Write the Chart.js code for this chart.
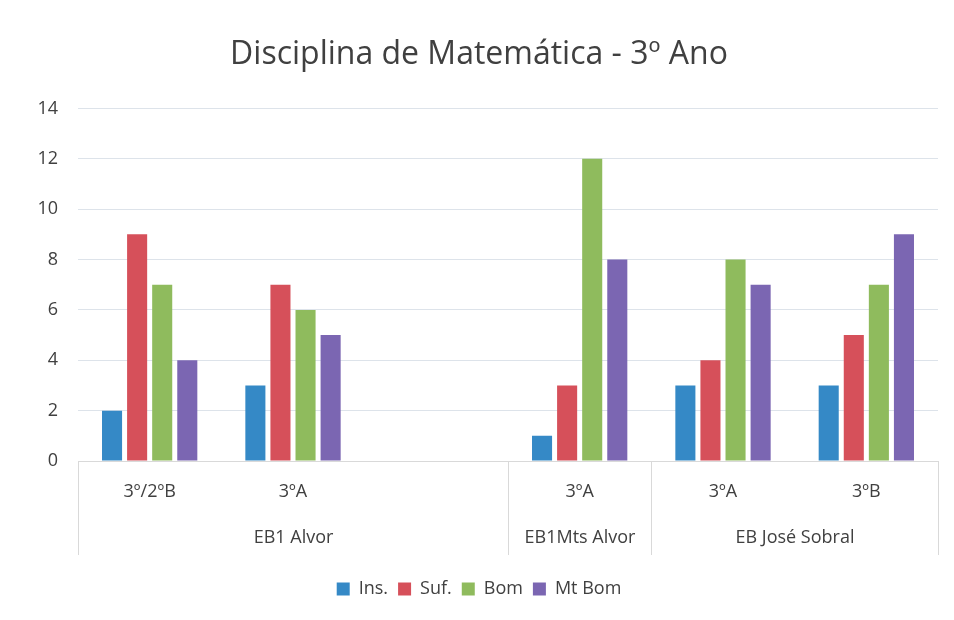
<!DOCTYPE html>
<html>
<head>
<meta charset="utf-8">
<script src="https://cdn.jsdelivr.net/npm/chart.js@4.4.1/dist/chart.umd.min.js"></script>
<style>
  html, body { margin: 0; padding: 0; background: #fff; }
  #wrap { width: 954px; height: 620px; }
</style>
</head>
<body>
<div id="wrap"><canvas id="chart" width="954" height="620"></canvas></div>
<script>
// Turmas (inner labels) and the schools they belong to
const turmas = ['3º/2ºB', '3ºA', '', '3ºA', '3ºA', '3ºB'];
const escolas = ['EB1 Alvor', 'EB1Mts Alvor', 'EB José Sobral'];
const escolaSpan = [3, 1, 2];

// Number of pupils per grade
const ins = [2, 3, null, 1, 3, 3];
const suf = [9, 7, null, 3, 4, 5];
const bom = [7, 6, null, 12, 8, 7];
const mtBom = [4, 5, null, 8, 7, 9];

const textColor = '#404040';
const fontFamily = '"Open Sans", "Liberation Sans", sans-serif';

// draws the school names and the separator lines under the x axis
const groupAxis = {
    id: 'groupAxis',
    afterDraw(chart) {
        const ctx = chart.ctx;
        const x = chart.scales.x;
        const top = chart.chartArea.bottom;
        const bottom = top + 94;
        const step = (x.right - x.left) / turmas.length;
        ctx.save();
        ctx.strokeStyle = '#d9d9d9';
        ctx.lineWidth = 1;
        ctx.fillStyle = textColor;
        ctx.font = '18px ' + fontFamily;
        ctx.textAlign = 'center';
        ctx.textBaseline = 'middle';
        let idx = 0;
        const edge = (i) => Math.round(x.left + i * step) + 0.5;
        ctx.beginPath();
        ctx.moveTo(edge(0), top);
        ctx.lineTo(edge(0), bottom);
        ctx.stroke();
        escolas.forEach((name, g) => {
            const start = idx;
            idx += escolaSpan[g];
            ctx.beginPath();
            ctx.moveTo(edge(idx), top);
            ctx.lineTo(edge(idx), bottom);
            ctx.stroke();
            ctx.fillText(name, (edge(start) + edge(idx)) / 2, top + 77);
        });
        ctx.restore();
    }
};

new Chart(document.getElementById('chart'), {
    type: 'bar',
    data: {
        labels: turmas,
        datasets: [
            { label: 'Ins.', data: ins, backgroundColor: '#3589c6' },
            { label: 'Suf.', data: suf, backgroundColor: '#d6505a' },
            { label: 'Bom', data: bom, backgroundColor: '#8fbb5d' },
            { label: 'Mt Bom', data: mtBom, backgroundColor: '#7b66b2' }
        ]
    },
    plugins: [groupAxis],
    options: {
        responsive: false,
        animation: false,
        layout: { padding: { left: 20, right: 16, top: 0, bottom: 12 } },
        datasets: { bar: { categoryPercentage: 0.7, barPercentage: 0.8 } },
        plugins: {
            title: {
                display: true,
                text: 'Disciplina de Matemática - 3º Ano',
                color: textColor,
                font: { family: fontFamily, size: 32, weight: 'normal' },
                padding: { top: 36, bottom: 34 }
            },
            legend: {
                position: 'bottom',
                labels: {
                    color: textColor,
                    font: { family: fontFamily, size: 18 },
                    boxWidth: 13,
                    boxHeight: 13,
                    padding: 10
                }
            },
            tooltip: { enabled: false }
        },
        scales: {
            x: {
                grid: { display: false },
                border: { color: '#d9d9d9' },
                ticks: {
                    color: textColor,
                    font: { family: fontFamily, size: 18 },
                    padding: 12,
                    maxRotation: 0
                },
                afterFit(scale) { scale.height = 109; }
            },
            y: {
                min: 0,
                max: 14,
                ticks: {
                    stepSize: 2,
                    color: textColor,
                    font: { family: fontFamily, size: 18 },
                    padding: 20
                },
                grid: { color: '#dde3ea', drawTicks: false },
                border: { display: false },
                afterFit(scale) { scale.width = 58; }
            }
        }
    }
});
</script>
</body>
</html>
